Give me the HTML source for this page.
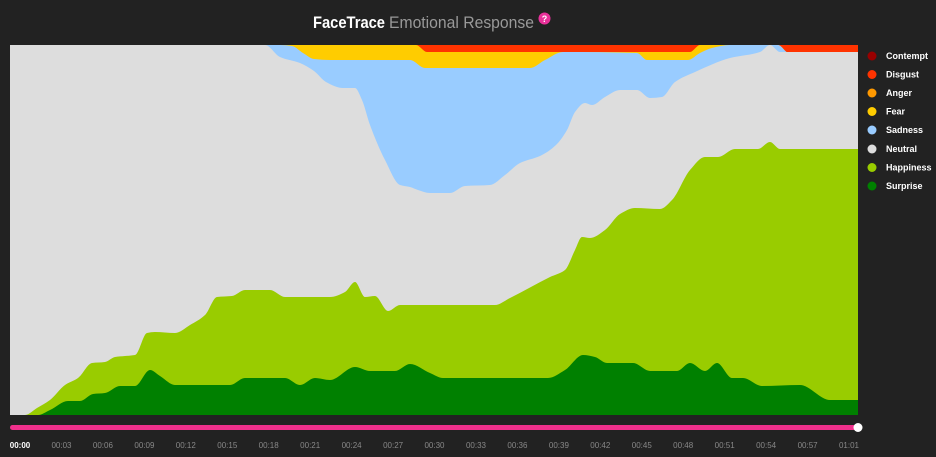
<!DOCTYPE html>
<html><head><meta charset="utf-8"><style>
html,body{margin:0;padding:0;background:#222;width:936px;height:457px;overflow:hidden;font-family:"Liberation Sans",sans-serif}
</style></head><body>
<svg width="936" height="457" viewBox="0 0 936 457" xmlns="http://www.w3.org/2000/svg">
<rect width="936" height="457" fill="#222"/>
<text x="313" y="28" font-size="17" font-weight="bold" fill="#fff" textLength="72" lengthAdjust="spacingAndGlyphs">FaceTrace</text>
<text x="389" y="28" font-size="17" fill="#999" textLength="145" lengthAdjust="spacingAndGlyphs">Emotional Response</text>
<circle cx="544.5" cy="18.5" r="6" fill="#e8319a"/>
<text x="544.5" y="22" font-size="9" font-weight="bold" fill="#fff" text-anchor="middle">?</text>
<g id="chart"></g>
<rect x="10" y="425" width="848" height="5" rx="2.5" fill="#f0308c"/>
<circle cx="858" cy="427.5" r="4.5" fill="#fff"/>
<g id="ticks" font-size="8" fill="#888" text-anchor="middle"></g>
<g font-size="9" font-weight="bold" fill="#fff">
<circle cx="872" cy="56" r="4.5" fill="#990000"/><text x="886" y="59">Contempt</text>
<circle cx="872" cy="74.5" r="4.5" fill="#ff3300"/><text x="886" y="77.5">Disgust</text>
<circle cx="872" cy="93" r="4.5" fill="#ff9900"/><text x="886" y="96">Anger</text>
<circle cx="872" cy="111.5" r="4.5" fill="#ffcc00"/><text x="886" y="114.5">Fear</text>
<circle cx="872" cy="130" r="4.5" fill="#99ccff"/><text x="886" y="133">Sadness</text>
<circle cx="872" cy="149" r="4.5" fill="#dddddd"/><text x="886" y="152">Neutral</text>
<circle cx="872" cy="167.5" r="4.5" fill="#99cc00"/><text x="886" y="170.5">Happiness</text>
<circle cx="872" cy="186" r="4.5" fill="#008000"/><text x="886" y="189">Surprise</text>
</g>
</svg>
<script>
const NS="http://www.w3.org/2000/svg";
const B=415;
const layers=[
["#ff3300",[[10,45],[858,45]]],
["#ffcc00",[[10,45],[416,45],[427,52],[690,52],[700,45],[778,45],[789,53],[858,53]]],
["#99ccff",[[10,45],[280,45],[292,46],[303,53],[314,59],[330,60],[410,60],[425,68],[530,68],[545,60],[563,52],[637,53],[647,60],[688,60],[700,53],[712,48],[730,45],[778,45],[789,53],[858,53]]],
["#dddddd",[[10,45],[265,45],[280,57],[300,63],[314,71],[326,82],[343,88],[355,88],[362,100],[370,125],[385,160],[400,185],[410,187],[418,190],[430,193],[450,193],[465,186],[490,185],[505,175],[520,163],[540,156],[556,145],[567,130],[575,112],[585,103],[592,105],[605,97],[620,90],[637,90],[650,98],[662,97],[675,82],[695,72],[730,58],[760,52],[770,45],[780,52],[858,52]]],
["#99cc00",[[10,415],[25,415],[37,408],[50,400],[65,385],[78,378],[92,363],[105,362],[115,357],[125,356],[135,355],[147,333],[155,332],[175,333],[190,325],[205,315],[217,297],[232,296],[245,290],[270,290],[285,297],[330,297],[345,292],[355,282],[365,297],[375,296],[388,311],[400,305],[495,305],[510,298],[550,277],[565,270],[575,250],[582,237],[590,238],[605,230],[620,214],[635,208],[660,209],[672,200],[690,170],[705,157],[718,157],[735,149],[758,149],[770,142],[780,149],[858,149]]],
["#008000",[[10,415],[38,415],[50,410],[68,401],[80,401],[93,394],[105,393],[120,386],[135,386],[150,370],[160,376],[175,385],[230,385],[245,378],[285,378],[300,385],[315,378],[330,380],[355,367],[370,371],[395,371],[410,364],[430,373],[443,378],[548,378],[565,370],[583,355],[595,357],[607,363],[633,363],[650,371],[677,371],[690,363],[705,371],[717,363],[732,378],[743,378],[762,386],[800,385],[830,400],[858,400]]]
];
function mono(p){
  const n=p.length, dx=[], m=[], t=[];
  for(let i=0;i<n-1;i++){dx[i]=p[i+1][0]-p[i][0]; m[i]=(p[i+1][1]-p[i][1])/dx[i];}
  t[0]=m[0]; t[n-1]=m[n-2];
  for(let i=1;i<n-1;i++){
    if(m[i-1]*m[i]<=0) t[i]=0;
    else { const w1=2*dx[i]+dx[i-1], w2=dx[i]+2*dx[i-1]; t[i]=(w1+w2)/(w1/m[i-1]+w2/m[i]); }
  }
  let d="M"+p[0][0]+","+p[0][1];
  for(let i=0;i<n-1;i++){
    const h=dx[i]/3;
    d+=` C${(p[i][0]+h).toFixed(1)},${(p[i][1]+t[i]*h).toFixed(1)} ${(p[i+1][0]-h).toFixed(1)},${(p[i+1][1]-t[i+1]*h).toFixed(1)} ${p[i+1][0]},${p[i+1][1]}`;
  }
  return d;
}
const g=document.getElementById("chart");
for(const [c,p] of layers){
  const e=document.createElementNS(NS,"path");
  e.setAttribute("d",mono(p)+` L858,${B} L10,${B} Z`);
  e.setAttribute("fill",c);
  g.appendChild(e);
}
const t=document.getElementById("ticks");
for(let i=0;i<=20;i++){
  let lab;
  if(i==20) lab="01:01"; else {const s=i*3; lab="00:"+String(s).padStart(2,"0");}
  const e=document.createElementNS(NS,"text");
  e.setAttribute("x",(20+i*41.45).toFixed(1));
  e.setAttribute("y","448");
  if(i==0){e.setAttribute("fill","#fff");e.setAttribute("font-weight","bold");}
  e.textContent=lab;
  t.appendChild(e);
}
</script>
</body></html>
